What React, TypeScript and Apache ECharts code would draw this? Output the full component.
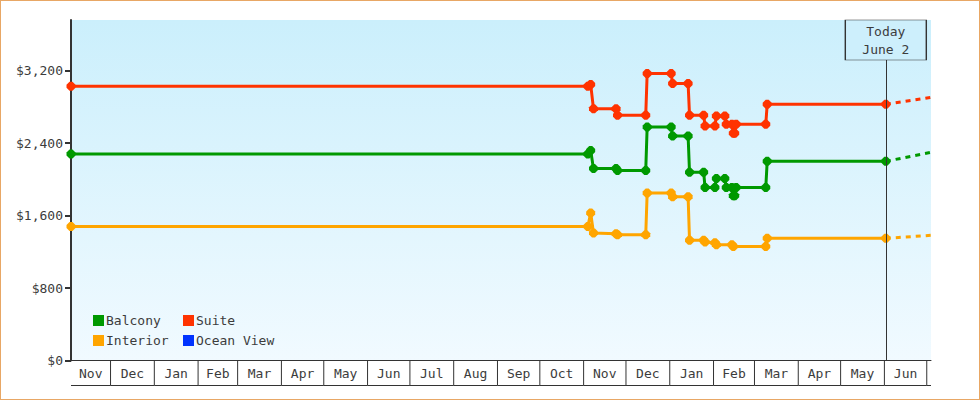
import React, { useEffect, useRef } from 'react';
import * as echarts from 'echarts';

const FONT = '"DejaVu Sans Mono", monospace';
const TEXT = '#333333';
const LABEL = '#3c3c3c';

const AXIS_START = '2022-11-03';
const AXIS_END = '2024-07-04';
const TODAY = '2024-06-02';
const TODAY_LABEL = ['Today', 'June 2'];

const MONTH_LABELS = ['Nov', 'Dec', 'Jan', 'Feb', 'Mar', 'Apr', 'May', 'Jun', 'Jul', 'Aug', 'Sep', 'Oct',
  'Nov', 'Dec', 'Jan', 'Feb', 'Mar', 'Apr', 'May', 'Jun', ''];
const MONTH_STARTS = ['2022-11-01', '2022-12-01', '2023-01-01', '2023-02-01', '2023-03-01', '2023-04-01',
  '2023-05-01', '2023-06-01', '2023-07-01', '2023-08-01', '2023-09-01', '2023-10-01', '2023-11-01',
  '2023-12-01', '2024-01-01', '2024-02-01', '2024-03-01', '2024-04-01', '2024-05-01', '2024-06-01',
  '2024-07-01', '2024-08-01'];

const Y_MAX = 3760;
const Y_TICKS = [0, 800, 1600, 2400, 3200];

const SERIES_NAMES = ['Balcony', 'Suite', 'Interior', 'Ocean View'];
const SERIES_COLORS = ['#009900', '#ff3300', '#ffa500', '#0033ff'];

const SUITE_DATES = ['2022-11-03', '2023-11-04', '2023-11-06', '2023-11-08', '2023-11-24', '2023-11-25',
  '2023-12-15', '2023-12-16', '2024-01-02', '2024-01-03', '2024-01-14', '2024-01-15', '2024-01-25',
  '2024-01-26', '2024-02-02', '2024-02-03', '2024-02-09', '2024-02-10', '2024-02-14', '2024-02-15',
  '2024-02-16', '2024-02-17', '2024-03-09', '2024-03-10', '2024-06-02'];
const SUITE_PRICES = [3029, 3029, 3049, 2779, 2779, 2709, 2709, 3169, 3169, 3059, 3059, 2709, 2709,
  2589, 2589, 2699, 2699, 2609, 2609, 2509, 2509, 2609, 2609, 2829, 2829];

const BALCONY_DATES = ['2022-11-03', '2023-11-04', '2023-11-06', '2023-11-08', '2023-11-24', '2023-11-25',
  '2023-12-15', '2023-12-16', '2024-01-02', '2024-01-03', '2024-01-14', '2024-01-15', '2024-01-25',
  '2024-01-26', '2024-02-02', '2024-02-03', '2024-02-09', '2024-02-10', '2024-02-14', '2024-02-15',
  '2024-02-16', '2024-02-17', '2024-03-09', '2024-03-10', '2024-06-02'];
const BALCONY_PRICES = [2279, 2279, 2319, 2119, 2119, 2099, 2099, 2579, 2579, 2479, 2479, 2079, 2079,
  1909, 1909, 2009, 2009, 1909, 1909, 1819, 1819, 1909, 1909, 2199, 2199];

const INTERIOR_DATES = ['2022-11-03', '2023-11-04', '2023-11-06', '2023-11-08', '2023-11-24', '2023-11-25',
  '2023-12-15', '2023-12-16', '2024-01-02', '2024-01-03', '2024-01-14', '2024-01-15', '2024-01-25',
  '2024-01-26', '2024-02-02', '2024-02-03', '2024-02-14', '2024-02-15', '2024-03-09', '2024-03-10',
  '2024-06-02'];
const INTERIOR_PRICES = [1479, 1479, 1629, 1409, 1399, 1389, 1389, 1849, 1849, 1809, 1809, 1329, 1329,
  1309, 1299, 1279, 1279, 1259, 1259, 1349, 1349];

const PROJECTION_DATES = ['2024-06-02', '2024-07-04'];
const BALCONY_PROJECTION = [2199, 2299];
const SUITE_PROJECTION = [2829, 2905];
const INTERIOR_PROJECTION = [1349, 1382];

const t = (s: string) => Date.parse(s + 'T00:00:00Z');
const pairs = (dates: string[], vals: number[]) => dates.map((d, i) => [t(d), vals[i]]);

const MARKER = 'path://M3,0L6,0L9,3L9,6L6,9L3,9L0,6L0,3Z';

function lineSeries(name: string, color: string, data: number[][]) {
  return {
    type: 'line',
    name,
    data,
    color,
    symbol: MARKER,
    symbolSize: 9,
    showSymbol: true,
    z: 3,
    silent: true,
    lineStyle: { color, width: 3 },
    itemStyle: { color, borderWidth: 0 },
  };
}

function projSeries(color: string, data: number[][]) {
  return {
    type: 'line',
    name: 'proj-' + color,
    data,
    symbol: 'none',
    z: 2,
    silent: true,
    lineStyle: { color, width: 3, type: [5, 5] },
  };
}

export default function App() {
  const ref = useRef<HTMLDivElement>(null);

  useEffect(() => {
    if (!ref.current) return;
    const chart = echarts.init(ref.current, null, { renderer: 'svg' });

    const textStyle = { fontFamily: FONT, fontSize: 13, color: LABEL };
    const legendBase = {
      padding: 0,
      itemWidth: 11,
      itemHeight: 11,
      icon: 'rect',
      selectedMode: false,
      orient: 'vertical',
      textStyle: { ...textStyle, padding: [0, 0, 0, -3] },
    };

    const monthData = MONTH_LABELS.map((_, i) => [t(MONTH_STARTS[i]), 0, t(MONTH_STARTS[i + 1])]);

    const option = {
      animation: false,
      grid: {
        left: 71,
        right: 49,
        top: 20,
        bottom: 39.5,
        show: true,
        borderWidth: 0,
        backgroundColor: new echarts.graphic.LinearGradient(0, 0, 0, 1, [
          { offset: 0, color: '#cbeffc' },
          { offset: 1, color: '#f1faff' },
        ]),
      },
      legend: [
        { ...legendBase, data: ['Balcony'], left: 93, top: 314 },
        { ...legendBase, data: ['Interior'], left: 93, top: 334 },
        { ...legendBase, data: ['Suite'], left: 183, top: 314 },
        { ...legendBase, data: ['Ocean View'], left: 183, top: 334 },
      ],
      xAxis: {
        type: 'time',
        min: t(AXIS_START),
        max: t(AXIS_END),
        axisLine: { show: true, lineStyle: { color: TEXT, width: 1 } },
        axisTick: { show: false },
        axisLabel: { show: false },
        splitLine: { show: false },
      },
      yAxis: {
        type: 'value',
        min: 0,
        max: Y_MAX,
        axisLine: { show: true, lineStyle: { color: TEXT, width: 2 } },
        axisTick: { show: true, length: 6, lineStyle: { color: TEXT, width: 2 }, customValues: Y_TICKS },
        axisLabel: {
          ...textStyle,
          margin: 8,
          customValues: Y_TICKS,
          formatter: (v: number) => '$' + v.toLocaleString('en-US'),
        },
        splitLine: { show: false },
      },
      series: [
        {
          type: 'line',
          name: 'today-line',
          data: [],
          z: 1,
          silent: true,
          markLine: {
            silent: true,
            symbol: ['none', 'none'],
            label: { show: false },
            lineStyle: { color: TEXT, width: 1, type: 'solid' },
            data: [{ xAxis: t(TODAY) }],
          },
        },
        projSeries(SERIES_COLORS[0], pairs(PROJECTION_DATES, BALCONY_PROJECTION)),
        projSeries(SERIES_COLORS[1], pairs(PROJECTION_DATES, SUITE_PROJECTION)),
        projSeries(SERIES_COLORS[2], pairs(PROJECTION_DATES, INTERIOR_PROJECTION)),
        lineSeries(SERIES_NAMES[2], SERIES_COLORS[2], pairs(INTERIOR_DATES, INTERIOR_PRICES)),
        lineSeries(SERIES_NAMES[0], SERIES_COLORS[0], pairs(BALCONY_DATES, BALCONY_PRICES)),
        lineSeries(SERIES_NAMES[1], SERIES_COLORS[1], pairs(SUITE_DATES, SUITE_PRICES)),
        lineSeries(SERIES_NAMES[3], SERIES_COLORS[3], []),
        {
          type: 'line',
          name: 'today-box',
          data: [],
          z: 6,
          silent: true,
          markPoint: {
            silent: true,
            symbol: 'rect',
            symbolSize: [81, 40],
            symbolOffset: [0, 20],
            itemStyle: { color: '#cdeffc', borderColor: TEXT, borderWidth: 1 },
            label: {
              show: true,
              position: 'inside',
              formatter: TODAY_LABEL.join('\n'),
              ...textStyle,
              lineHeight: 18,
            },
            data: [{ coord: [t(TODAY), Y_MAX] }],
          },
        },
        {
          type: 'custom',
          name: 'months',
          data: monthData,
          encode: { x: 0, y: 1 },
          clip: false,
          silent: true,
          z: 4,
          renderItem: (params: any, api: any) => {
            const cs = params.coordSys;
            const p1 = api.coord([api.value(0), 0]);
            const p2 = api.coord([api.value(2), 0]);
            const left = Math.max(p1[0], cs.x);
            const right = Math.min(p2[0], cs.x + cs.width);
            if (right <= left) return null;
            const y0 = cs.y + cs.height;
            const children: any[] = [
              {
                type: 'line',
                shape: { x1: left, y1: y0 + 25, x2: right, y2: y0 + 25 },
                style: { stroke: TEXT, lineWidth: 1 },
              },
            ];
            if (p1[0] > cs.x + 0.5) {
              children.push({
                type: 'line',
                shape: { x1: p1[0], y1: y0, x2: p1[0], y2: y0 + 25 },
                style: { stroke: TEXT, lineWidth: 1 },
              });
            }
            const label = MONTH_LABELS[params.dataIndex];
            if (label && right - left > 20) {
              children.push({
                type: 'text',
                style: {
                  text: label,
                  x: (left + right) / 2,
                  y: y0 + 12.5,
                  align: 'center',
                  verticalAlign: 'middle',
                  fill: LABEL,
                  fontSize: 13,
                  fontFamily: FONT,
                },
              });
            }
            return { type: 'group', children };
          },
        },
      ],
    };

    chart.setOption(option as any);
    return () => chart.dispose();
  }, []);

  return (
    <div style={{ position: 'absolute', left: 0, top: 0, width: 980, height: 400, background: '#fff' }}>
      <div ref={ref} style={{ width: 980, height: 400 }} />
      <div
        style={{
          position: 'absolute',
          left: 0,
          top: 0,
          width: 980,
          height: 400,
          border: '1px solid #e8a765',
          boxSizing: 'border-box',
          pointerEvents: 'none',
        }}
      />
    </div>
  );
}
